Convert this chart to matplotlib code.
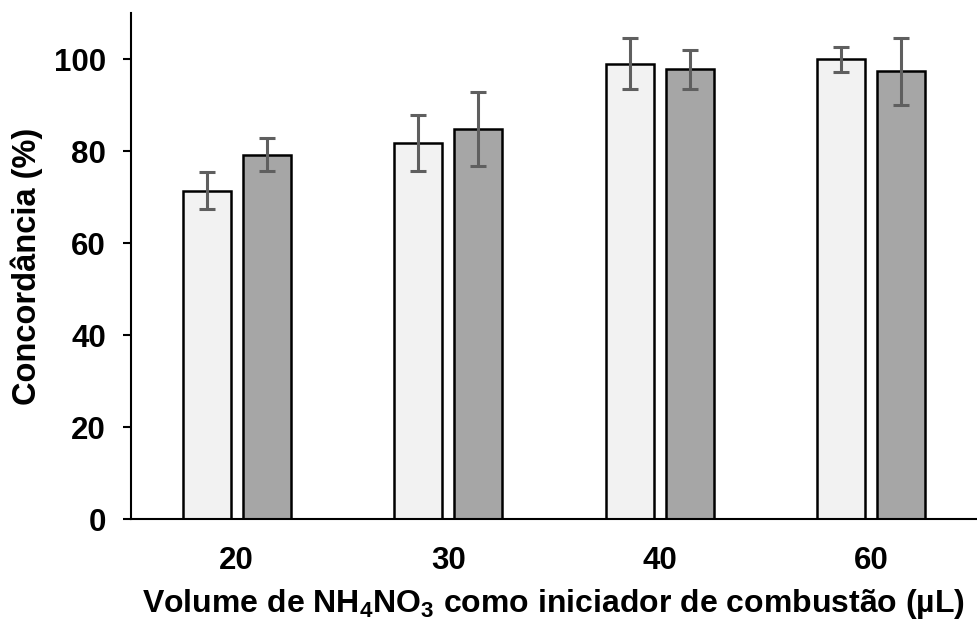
import matplotlib
matplotlib.use("Agg")
import matplotlib.pyplot as plt
import numpy as np

plt.rcParams['font.family'] = ['Liberation Sans', 'DejaVu Sans']
plt.rcParams['font.weight'] = 'bold'
plt.rcParams['mathtext.fontset'] = 'custom'
plt.rcParams['mathtext.rm'] = 'Liberation Sans:bold'
plt.rcParams['mathtext.bf'] = 'Liberation Sans:bold'
plt.rcParams['mathtext.default'] = 'bf'

### data ###
categories = ['20', '30', '40', '60']
light_vals = [71.4, 81.8, 99.0, 100.0]
light_err = [4.0, 6.1, 5.5, 2.7]
dark_vals = [79.2, 84.8, 97.8, 97.4]
dark_err = [3.6, 8.0, 4.3, 7.3]
############

fig = plt.figure(figsize=(9.77, 6.27), dpi=100)
ax = fig.add_axes([0.134, 0.172, 0.866, 0.807])

x = np.arange(len(categories))
w = 0.227
off = 0.142
ekw = dict(ecolor='#5f5f5f', elinewidth=2.2, capsize=6, capthick=2.2)
ax.bar(x - off, light_vals, w, color='#f2f2f2', edgecolor='black', linewidth=1.8,
       yerr=light_err, error_kw=ekw)
ax.bar(x + off, dark_vals, w, color='#a6a6a6', edgecolor='black', linewidth=1.8,
       yerr=dark_err, error_kw=ekw)

ax.set_xlim(-0.5, 3.5)
ax.set_ylim(0, 110)
ax.set_yticks([0, 20, 40, 60, 80, 100])
ax.set_xticks(x)
ax.set_xticklabels(categories)
ax.tick_params(axis='x', length=0, labelsize=22.5, pad=19)
ax.tick_params(axis='y', length=6, width=1.5, labelsize=22.5, pad=12)
for lbl in ax.get_xticklabels() + ax.get_yticklabels():
    lbl.set_fontweight('bold')

ax.spines['top'].set_visible(False)
ax.spines['right'].set_visible(False)
ax.spines['left'].set_linewidth(1.5)
ax.spines['bottom'].set_linewidth(1.5)

ax.set_ylabel('Concordância (%)', fontsize=23.5, fontweight='bold', labelpad=8)
ax.set_xlabel(r'Volume de NH$_4$NO$_3$ como iniciador de combustão (µL)',
              fontsize=23, fontweight='bold', labelpad=8)

fig.savefig('out.png', dpi=100)
